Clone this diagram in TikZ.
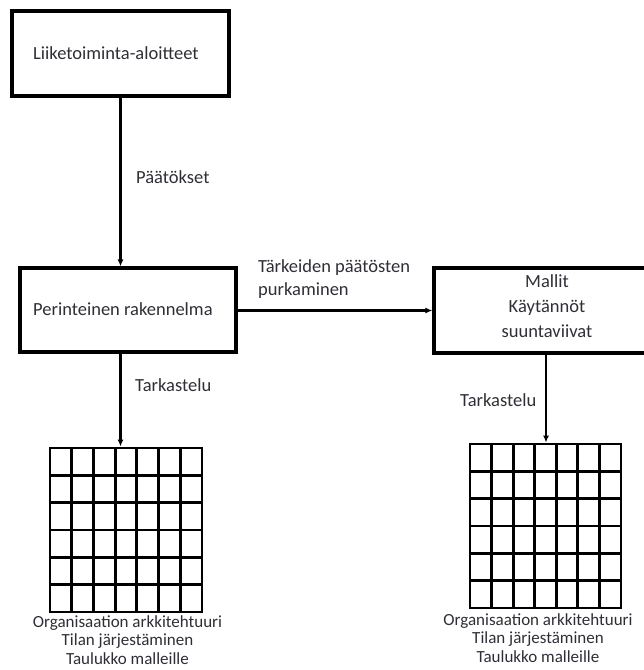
\documentclass[tikz,border=0pt]{standalone}
\usepackage{fontspec}
\setmainfont{Carlito}
\usepackage{tikz}
\usepackage{xcolor}
\usetikzlibrary{arrows.meta,positioning}
\definecolor{inkgray}{HTML}{2E2E36}

\begin{document}
\begin{tikzpicture}[
      x=1pt,y=-1pt,
      >={Latex[length=7pt,width=6pt]},
      box/.style={draw,line width=3.2pt,inner sep=0pt},
      table/.style={draw,line width=2.8pt,inner sep=0pt},
      cell/.style={line width=2.8pt},
      flow/.style={->,line width=2.2pt},
      label/.style={text=inkgray,font=\fontsize{18.5}{22}\selectfont,inner sep=0pt},
      caption/.style={label,align=center,font=\fontsize{17}{18.5}\selectfont}
    ]
    \useasboundingbox (0,0) rectangle (644,670);

    \node[box,minimum width=217pt,minimum height=85pt] (top) at (120.5,53.5) {};
    \node[label,anchor=west] (topText) at (33,53) {Liiketoiminta-aloitteet};

    \node[box,minimum width=216pt,minimum height=84pt] (old) at (128,310) {};
    \node[label,anchor=west] (oldText) at (33,309) {Perinteinen rakennelma};

    \node[box,minimum width=224pt,minimum height=85pt] (rules) at (546,310.5) {};
    \node[label,align=center,font=\fontsize{18.5}{25}\selectfont] (rulesText) at (547,306)
      {Mallit\\Käytännöt\\suuntaviivat};

    \node[table,minimum width=152pt,minimum height=164pt] (tableL) at (126,530) {};
    \node[table,minimum width=151pt,minimum height=164pt] (tableR) at (545.5,526) {};
    \foreach \i in {1,...,6}
      \draw[cell] (50+\i*21.71,448) -- (50+\i*21.71,612);
    \foreach \j in {1,...,5}
      \draw[cell] (50,448+\j*27.33) -- (202,448+\j*27.33);
    \foreach \i in {1,...,6}
      \draw[cell] (470+\i*21.57,444) -- (470+\i*21.57,608);
    \foreach \j in {1,...,5}
      \draw[cell] (470,444+\j*27.33) -- (621,444+\j*27.33);

    \draw[flow] (top.south) -- (top.south |- old.north);
    \draw[flow] (old.south -| top.south) -- (top.south |- tableL.north);
    \draw[flow] (rules.west -| old.east) -- (rules.west);
    \draw[flow] (rules.south) -- (rules.south |- tableR.north);

    \node[label,anchor=west] (decide) at (136,177) {Päätökset};
    \node[label,anchor=west,align=left,font=\fontsize{18.5}{23}\selectfont] (dismantle) at (258,279)
      {Tärkeiden päätösten\\purkaminen};
    \node[label,anchor=west] (reviewL) at (135,385) {Tarkastelu};
    \node[label,anchor=west] (reviewR) at (460,400) {Tarkastelu};

    \node[caption] (outL) at (127.5,640)
      {Organisaation arkkitehtuuri\\Tilan järjestäminen\\Taulukko malleille};
    \node[caption] (outR) at (538,638)
      {Organisaation arkkitehtuuri\\Tilan järjestäminen\\Taulukko malleille};
  \end{tikzpicture}
\end{document}
